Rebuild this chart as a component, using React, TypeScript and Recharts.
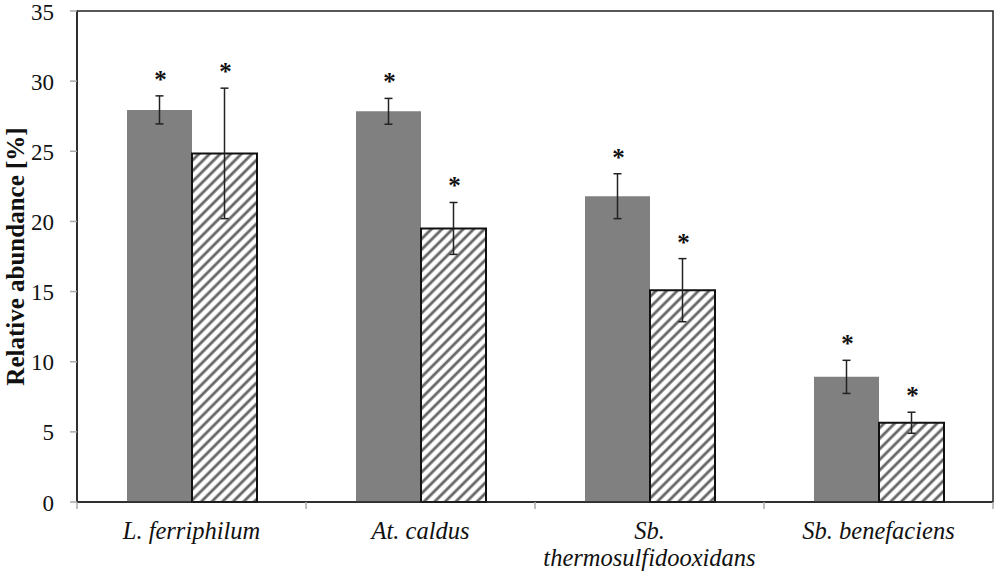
import { Bar, BarChart, ErrorBar, LabelList, ReferenceArea, XAxis, YAxis } from "recharts";

const categories = ["L. ferriphilum", "At. caldus", "Sb. thermosulfidooxidans", "Sb. benefaciens"];
const tickLines = [["L. ferriphilum"], ["At. caldus"], ["Sb.", "thermosulfidooxidans"], ["Sb. benefaciens"]];
const solidValues = [27.95, 27.85, 21.8, 8.92];
const solidErrors = [1.0, 0.92, 1.6, 1.18];
const hatchedValues = [24.85, 19.5, 15.1, 5.65];
const hatchedErrors = [4.65, 1.85, 2.25, 0.75];
const yTicks = [0, 5, 10, 15, 20, 25, 30, 35];

const rows = categories.map((name, i) => ({
  name,
  solid: solidValues[i],
  solidErr: solidErrors[i],
  hatched: hatchedValues[i],
  hatchedErr: hatchedErrors[i],
}));

const FONT = '"Liberation Serif", "Times New Roman", serif';
const BAND = (1000 - 77 - 7) / categories.length;

// label in the middle of the band, tick marks on the band edges (like Excel)
function CategoryTick(props: any) {
  const { x, y, index } = props;
  const lines = tickLines[index] || [props.payload.value];
  const axisY = y - 7;
  return (
    <g>
      <line x1={x - BAND / 2} y1={axisY} x2={x - BAND / 2} y2={axisY + 7} stroke="#aaa" strokeWidth={1.5} />
      {index === categories.length - 1 && (
        <line x1={x + BAND / 2} y1={axisY} x2={x + BAND / 2} y2={axisY + 7} stroke="#aaa" strokeWidth={1.5} />
      )}
      {lines.map((line, i) => (
        <text
          key={line}
          x={x}
          y={y + 30 + i * 27}
          textAnchor="middle"
          fontFamily={FONT}
          fontStyle="italic"
          fontSize={24.5}
          fill="#111"
        >
          {line}
        </text>
      ))}
    </g>
  );
}

function ValueTick(props: any) {
  const { x, y, payload } = props;
  return (
    <text x={x} y={y} dy={8.5} textAnchor="end" fontFamily={FONT} fontSize={23} fill="#111">
      {payload.value}
    </text>
  );
}

function AxisTitle(props: any) {
  const { viewBox } = props;
  const cy = viewBox.y + viewBox.height / 2;
  return (
    <text
      x={15}
      y={cy}
      transform={`rotate(-90, 15, ${cy})`}
      textAnchor="middle"
      dominantBaseline="central"
      fontFamily={FONT}
      fontSize={25}
      fontWeight="bold"
      fill="#111"
    >
      Relative abundance [%]
    </text>
  );
}

// star sits above the top of the error bar; px per unit comes from the bar's own height
function starLabel(errors: number[]) {
  return (props: any) => {
    const { x, y, width, height, value, index } = props;
    if (!value) return null;
    const perUnit = height / value;
    const errTop = y - errors[index] * perUnit;
    return (
      <text
        x={x + width / 2 + 1}
        y={errTop - 8}
        textAnchor="middle"
        fontFamily={FONT}
        fontSize={25}
        fontWeight="bold"
        fill="#111"
      >
        *
      </text>
    );
  };
}

export default function App() {
  return (
    <div style={{ position: "absolute", left: 0, top: 0, width: 1000, height: 577, background: "#fff" }}>
      <BarChart
        width={1000}
        height={577}
        data={rows}
        margin={{ top: 11, right: 7, bottom: 0, left: 0 }}
        barGap={0}
        barSize={65}
      >
        <defs>
          <pattern id="hatch" width="7.5" height="7.5" patternUnits="userSpaceOnUse" patternTransform="rotate(45)">
            <rect width="7.5" height="7.5" fill="#fff" />
            <line x1="2" y1="0" x2="2" y2="7.5" stroke="#666" strokeWidth="2.8" />
          </pattern>
        </defs>
        <XAxis
          dataKey="name"
          interval={0}
          height={75}
          axisLine={{ stroke: "#222", strokeWidth: 1.5 }}
          tickLine={false}
          tickSize={7}
          tickMargin={0}
          tick={<CategoryTick />}
        />
        <YAxis
          domain={[0, 35]}
          ticks={yTicks}
          width={77}
          interval={0}
          axisLine={{ stroke: "#222", strokeWidth: 1.5 }}
          tickLine={{ stroke: "#aaa", strokeWidth: 1.5 }}
          tickSize={7}
          tickMargin={16}
          tick={<ValueTick />}
          label={<AxisTitle />}
        />
        <ReferenceArea y1={0} y2={35} fill="none" stroke="#222" strokeWidth={1.5} ifOverflow="visible" />
        <Bar dataKey="solid" fill="#808080" isAnimationActive={false}>
          <ErrorBar dataKey="solidErr" width={4} stroke="#222" strokeWidth={1.5} />
          <LabelList dataKey="solid" content={starLabel(solidErrors)} />
        </Bar>
        <Bar dataKey="hatched" fill="url(#hatch)" stroke="#111" strokeWidth={2} isAnimationActive={false}>
          <ErrorBar dataKey="hatchedErr" width={4} stroke="#222" strokeWidth={1.5} />
          <LabelList dataKey="hatched" content={starLabel(hatchedErrors)} />
        </Bar>
      </BarChart>
    </div>
  );
}
